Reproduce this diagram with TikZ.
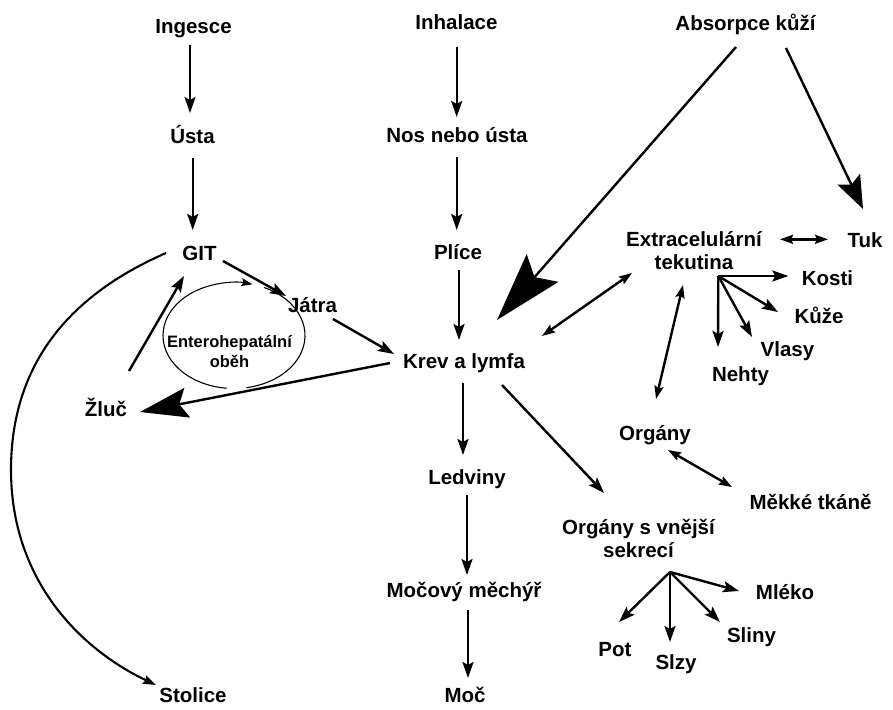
\documentclass[tikz,border=0pt]{standalone}
\usepackage{fontspec}
\setmainfont{Liberation Sans}
\usetikzlibrary{arrows.meta,calc}
\begin{document}
\begin{tikzpicture}[x=1pt,y=-1pt,
  lbl/.style={font=\fontsize{20.5}{23}\selectfont\bfseries, inner sep=0pt, text height=15pt, text depth=0.5pt},
  lbltwo/.style={font=\fontsize{20.5}{23}\selectfont\bfseries, inner sep=0pt, align=center},
  lblsmall/.style={font=\fontsize{16.5}{20}\selectfont\bfseries, inner sep=0pt, align=center},
  conn/.style={line width=2.4pt, -{Stealth[length=16pt,width=11pt,inset=3pt]}},
  biconn/.style={line width=2.4pt, {Stealth[length=13pt,width=9pt,inset=2pt]}-{Stealth[length=13pt,width=9pt,inset=2pt]}},
  hugehead/.style={line width=2.4pt, -{Stealth[length=69pt,width=42pt,inset=12pt]}},
  bighead/.style={line width=2.4pt, -{Stealth[length=48pt,width=30pt,inset=8pt]}},
  midhead/.style={line width=2.4pt, -{Stealth[length=33pt,width=25pt,inset=6pt]}},
  thincurve/.style={line width=1.1pt},
  thinarrow/.style={line width=1.1pt, -{Stealth[length=11pt,width=8pt,inset=2pt]}},
  curvearrow/.style={line width=2.1pt, -{Stealth[length=13pt,width=9pt,inset=2pt]}}
]
\fill[white] (0,0) rectangle (893,709);
\useasboundingbox (0,0) rectangle (893,709);

% nodes
\node[lbl] (ing) at (193.5,26.5) {Ingesce};
\node[lbl] (usta) at (192.5,136.5) {Ústa};
\node[lbl] (git) at (199.5,253) {GIT};
\node[lbl] (jatra) at (312.5,305) {Játra};
\node[lblsmall] (entero) at (229.5,351.5) {Enterohepatální\\oběh};
\node[lbl] (krev) at (464,361.5) {Krev a lymfa};
\node[lbl] (zluc) at (106,409) {Žluč};
\node[lbl] (stolice) at (193,695) {Stolice};
\node[lbl] (inh) at (456.5,22.5) {Inhalace};
\node[lbl] (nos) at (457,135) {Nos nebo ústa};
\node[lbl] (plice) at (458,252) {Plíce};
\node[lbl] (ledv) at (467,477) {Ledviny};
\node[lbl] (mocm) at (464,590) {Močový měchýř};
\node[lbl] (moc) at (465,695) {Moč};
\node[lbl] (abs) at (745.5,23.5) {Absorpce kůží};
\node[lbltwo] (ext) at (694,251) {Extracelulární\\tekutina};
\node[lbl] (tuk) at (865,240) {Tuk};
\node[lbl] (kosti) at (827.5,278) {Kosti};
\node[lbl] (kuze) at (819,316) {Kůže};
\node[lbl] (vlasy) at (787.5,349) {Vlasy};
\node[lbl] (nehty) at (740.5,374) {Nehty};
\node[lbl] (organy) at (655,433) {Orgány};
\node[lbl] (mekke) at (810.5,502) {Měkké tkáně};
\node[lbltwo] (ovs) at (638.5,538) {Orgány s vnější\\sekrecí};
\node[lbl] (mleko) at (785,592) {Mléko};
\node[lbl] (sliny) at (751.5,635) {Sliny};
\node[lbl] (slzy) at (676,662) {Slzy};
\node[lbl] (pot) at (615,649) {Pot};

% fan origins
\coordinate (extfan) at ([shift={(24.3,25)}]ext.center);
\coordinate (ovsfan) at ([shift={(31.5,34)}]ovs.center);

% left column
\draw[conn] ([shift={(-3.5,18.5)}]ing.center) -- ([shift={(-2.5,-23.5)}]usta.center);
\draw[conn] ([shift={(0.2,21.5)}]usta.center) -- ([shift={(-6.8,-23)}]git.center);
\draw[conn] ([shift={(23.5,8)}]git.center) -- ([shift={(-26.5,-9)}]jatra.center);
\draw[conn] ([shift={(20.5,14)}]jatra.center) -- ([shift={(-70,-7.5)}]krev.center);
\draw[bighead] ([shift={(-74,1.5)}]krev.center) -- ([shift={(34,3)}]zluc.center);
\draw[conn] ([shift={(23,-38)}]zluc.center) -- ([shift={(-15.5,23)}]git.center);
\draw[curvearrow] ([shift={(-33.5,0)}]git.center)
  .. controls (86,288) and (11,350) .. (11,470)
  .. controls (11,578) and (78,648) .. ([shift={(-37,-10)}]stolice.center);

% enterohepatic cycle
\draw[thinarrow] ([shift={(4.5,-16)}]entero.center) ++(96:71 and 53)
  arc[start angle=96, end angle=285, x radius=71, y radius=53];
\draw[thincurve] ([shift={(4.5,-16)}]entero.center) ++(-65:71 and 53)
  arc[start angle=-65, end angle=80, x radius=71, y radius=53];

% middle column
\draw[conn] ([shift={(0.2,24.5)}]inh.center) -- ([shift={(-0.3,-18)}]nos.center);
\draw[conn] ([shift={(-0.3,22)}]nos.center) -- ([shift={(-1.3,-22)}]plice.center);
\draw[conn] ([shift={(1,18)}]plice.center) -- ([shift={(-5,-21.5)}]krev.center);
\draw[conn] ([shift={(-1,21.5)}]krev.center) -- ([shift={(-4,-22)}]ledv.center);
\draw[conn] ([shift={(0,18)}]ledv.center) -- ([shift={(3,-15)}]mocm.center);
\draw[conn] ([shift={(4,20)}]mocm.center) -- ([shift={(3,-17)}]moc.center);

% skin absorption
\draw[hugehead] ([shift={(-9.5,23.5)}]abs.center) -- ([shift={(33,-41.5)}]krev.center);
\draw[midhead] ([shift={(40.5,24.5)}]abs.center) -- ([shift={(-2,-31)}]tuk.center);

% extracellular fluid
\draw[biconn] ([shift={(86,-11.7)}]ext.center) -- ([shift={(-37,-0.7)}]tuk.center);
\draw[biconn] ([shift={(78,-25.5)}]krev.center) -- ([shift={(-62,22)}]ext.center);
\draw[biconn] ([shift={(-11,34)}]ext.center) -- ([shift={(1,-34)}]organy.center);
\draw[conn] (extfan) -- ([shift={(-39.2,-2)}]kosti.center);
\draw[conn] (extfan) -- ([shift={(-41,-4)}]kuze.center);
\draw[conn] (extfan) -- ([shift={(-35.5,-12)}]vlasy.center);
\draw[conn] (extfan) -- ([shift={(-22.5,-27)}]nehty.center);

% organs
\draw[biconn] ([shift={(13,17)}]organy.center) -- ([shift={(-78.5,-15)}]mekke.center);
\draw[conn] ([shift={(38,23.5)}]krev.center) -- ([shift={(-34.5,-45)}]ovs.center);
\draw[conn] (ovsfan) -- ([shift={(-46,-1)}]mleko.center);
\draw[conn] (ovsfan) -- ([shift={(-31.5,-13)}]sliny.center);
\draw[conn] (ovsfan) -- ([shift={(-6,-20)}]slzy.center);
\draw[conn] (ovsfan) -- ([shift={(4,-27)}]pot.center);
\end{tikzpicture}
\end{document}
